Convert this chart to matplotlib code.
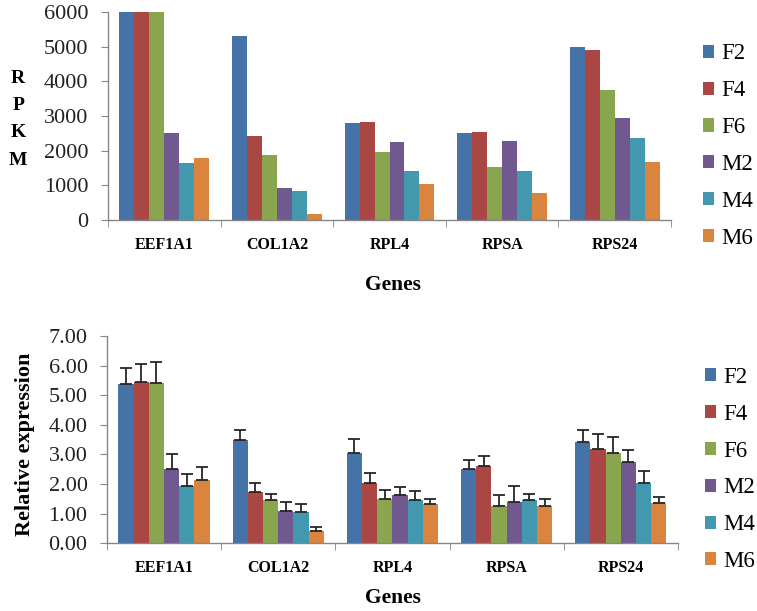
import numpy as np
import matplotlib
matplotlib.use("Agg")
import matplotlib.pyplot as plt
from matplotlib.ticker import FixedLocator, FormatStrFormatter

plt.rcParams['font.family'] = ['Liberation Serif', 'DejaVu Serif']

genes = ["EEF1A1", "COL1A2", "RPL4", "RPSA", "RPS24"]
samples = ["F2", "F4", "F6", "M2", "M4", "M6"]
colors = ["#4572A7", "#AA4643", "#89A54E", "#71588F", "#4198AF", "#DB843D"]

# RPKM values, one list per sample (order of genes)
rpkm = {
    "F2": [6000, 5300, 2800, 2500, 5000],
    "F4": [6000, 2420, 2840, 2540, 4910],
    "F6": [6000, 1870, 1950, 1540, 3760],
    "M2": [2500, 920, 2260, 2290, 2930],
    "M4": [1650, 830, 1410, 1410, 2360],
    "M6": [1800, 160, 1050, 780, 1680],
}

# relative expression (qPCR) and upper error
rel = {
    "F2": [5.38, 3.49, 3.06, 2.52, 3.41],
    "F4": [5.45, 1.73, 2.03, 2.60, 3.18],
    "F6": [5.42, 1.45, 1.49, 1.27, 3.06],
    "M2": [2.52, 1.10, 1.64, 1.41, 2.74],
    "M4": [1.93, 1.06, 1.45, 1.45, 2.03],
    "M6": [2.13, 0.43, 1.32, 1.27, 1.35],
}
rel_err = {
    "F2": [0.55, 0.35, 0.46, 0.28, 0.43],
    "F4": [0.61, 0.29, 0.35, 0.35, 0.51],
    "F6": [0.69, 0.22, 0.32, 0.36, 0.53],
    "M2": [0.49, 0.31, 0.27, 0.52, 0.41],
    "M4": [0.41, 0.28, 0.32, 0.22, 0.41],
    "M6": [0.43, 0.12, 0.19, 0.24, 0.20],
}

grey = "#868686"
x = np.arange(len(genes))
w = 0.133

fig = plt.figure(figsize=(7.57, 6.11), dpi=100)
ax1 = fig.add_axes([0.1427, 0.6399, 0.7437, 0.3404])
ax2 = fig.add_axes([0.1413, 0.1108, 0.7543, 0.3393])


def style_axis(ax):
    ax.set_xlim(-0.5, len(genes) - 0.5)
    for s in ["top", "right"]:
        ax.spines[s].set_visible(False)
    for s in ["left", "bottom"]:
        ax.spines[s].set_color(grey)
        ax.spines[s].set_linewidth(1.0)
    ax.set_xticks(x)
    ax.set_xticklabels(genes, fontsize=11.5, fontweight="bold")
    ax.tick_params(axis="x", which="major", length=0, pad=12)
    ax.xaxis.set_minor_locator(FixedLocator(np.arange(-0.5, len(genes), 1.0)))
    ax.tick_params(axis="x", which="minor", length=5, color=grey, direction="out")
    ax.tick_params(axis="y", length=5, color=grey, direction="out", labelsize=16,
                   labelcolor="#222222", pad=9)


leg_kw = dict(frameon=False, fontsize=16.5, handlelength=0.5, handleheight=0.5,
              handletextpad=0.3, labelspacing=0.69, borderpad=0, borderaxespad=0)

# top chart: RPKM
for i, s in enumerate(samples):
    ax1.bar(x + (i - 2.5) * w, rpkm[s], w, color=colors[i], label=s)
ax1.set_ylim(0, 6000)
ax1.set_yticks(np.arange(0, 6001, 1000))
style_axis(ax1)
ax1.text(0.506, -0.3125, "Genes", transform=ax1.transAxes, ha="center", va="center",
         fontsize=15.5, fontweight="bold")
fig.text(0.024, 0.805, "R\nP\nK\nM", ha="center", va="center", fontsize=14,
         fontweight="bold", linespacing=1.8)
ax1.legend(loc="center left", bbox_to_anchor=(0.9287, 0.761),
           bbox_transform=fig.transFigure, **leg_kw)

# bottom chart: relative expression
for i, s in enumerate(samples):
    ax2.bar(x + (i - 2.5) * w, rel[s], w, color=colors[i], label=s,
            yerr=[np.zeros(len(genes)), rel_err[s]], capsize=4,
            error_kw=dict(ecolor="#262626", elinewidth=1.3, capthick=1.3))
ax2.set_ylim(0, 7)
ax2.set_yticks(np.arange(0, 7.01, 1))
ax2.yaxis.set_major_formatter(FormatStrFormatter("%.2f"))
style_axis(ax2)
ax2.text(0.5, -0.264, "Genes", transform=ax2.transAxes, ha="center", va="center",
         fontsize=15.5, fontweight="bold")
fig.text(0.033, 0.272, "Relative expression", rotation=90, ha="center", va="center",
         fontsize=16, fontweight="bold")
ax2.legend(loc="center left", bbox_to_anchor=(0.931, 0.2316),
           bbox_transform=fig.transFigure, **leg_kw)

fig.savefig("out.png", dpi=100)
